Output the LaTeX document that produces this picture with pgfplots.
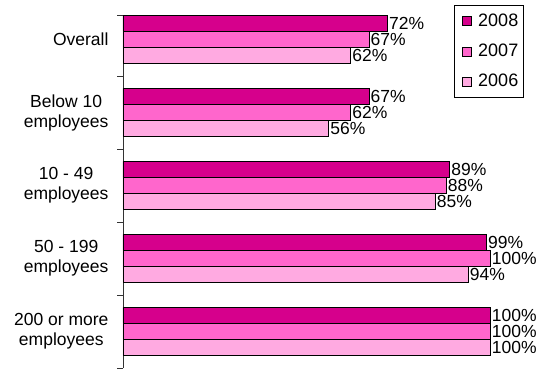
\documentclass[border=0pt]{standalone}
\usepackage{pgfplots}
\pgfplotsset{compat=1.18}
\usepackage{fontspec}
\setmainfont{Liberation Sans}
\definecolor{c08}{RGB}{214,0,140}
\definecolor{c07}{RGB}{255,102,204}
\definecolor{c06}{RGB}{255,170,225}
\begin{document}
\begin{tikzpicture}[x=1pt,y=1pt]
\begin{axis}[
  at={(123pt,2pt)}, anchor=south west,
  scale only axis, width=367pt, height=353pt,
  xmin=0, xmax=100, ymin=-0.5, ymax=4.336,
  clip=false,
  hide x axis,
  axis lines*=left,
  axis line style={black!80, line width=0.8pt},
  xbar, bar width=0.22,
  ytick={0,1,2,3,4},
  yticklabels={{200 or more\\employees},{50 - 199\\employees},{10 - 49\\employees},{Below 10\\employees},{Overall}},
  major tick length=0pt,
  yticklabel style={align=center, font=\fontsize{17.5}{20}\selectfont, xshift=-11pt},
  extra y ticks={-0.5,0.5,1.5,2.5,3.5,4.336},
  extra y tick labels={},
  extra y tick style={major tick length=6pt, tick align=outside, tick pos=left, tick style={black!80, line width=0.8pt}},
  point meta=x,
  /pgf/number format/assume math mode=true,
  nodes near coords={\pgfmathprintnumber{\pgfplotspointmeta}\%},
  every node near coord/.append style={font=\fontsize{17.5}{20}\selectfont, anchor=west, inner xsep=1.5pt, inner ysep=0pt, black},
  legend style={at={(rel axis cs:0.902,1.0283)}, anchor=north west, draw=black, fill=white,
     font=\fontsize{18}{20}\selectfont, inner xsep=5pt, inner ysep=9pt, row sep=16pt, column sep=0pt,
     nodes={inner sep=0pt}},
  legend cell align=left,
  legend image code/.code={\path[draw=none,fill=none] (0pt,0pt) -- (19pt,0pt); \draw[#1, draw=black, line width=0.6pt] (3pt,-4.5pt) rectangle (12pt,4.5pt);},
]
\addplot[fill=c08, draw=black, line width=0.7pt, bar shift=0.22] coordinates {(72,4) (67,3) (89,2) (99,1) (100,0)};
\addplot[fill=c07, draw=black, line width=0.7pt, bar shift=0] coordinates {(67,4) (62,3) (88,2) (100,1) (100,0)};
\addplot[fill=c06, draw=black, line width=0.7pt, bar shift=-0.22] coordinates {(62,4) (56,3) (85,2) (94,1) (100,0)};
\legend{2008,2007,2006}
\end{axis}
\pgfresetboundingbox
\path[use as bounding box] (0,0) rectangle (544,370);
\end{tikzpicture}
\end{document}
